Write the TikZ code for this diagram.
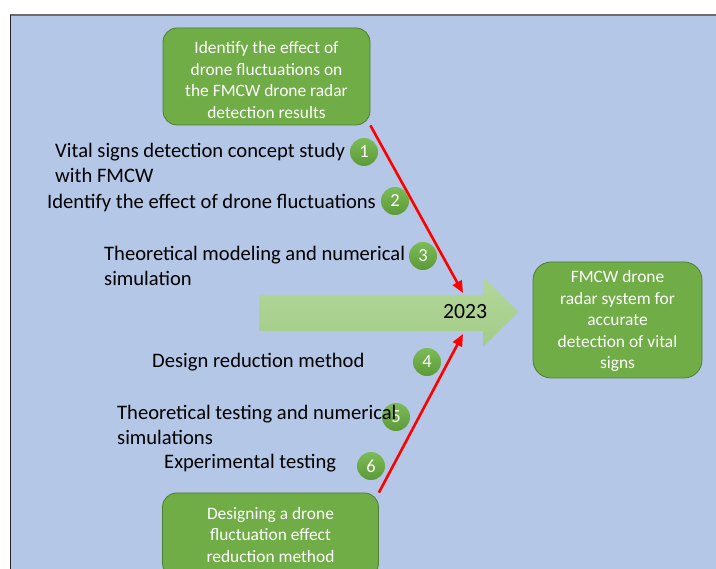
\documentclass[tikz,border=0pt]{standalone}
\usepackage{fontspec}
\setmainfont{Carlito}
\usetikzlibrary{arrows.meta}
\definecolor{bgblue}{HTML}{B4C7E7}
\definecolor{boxgreen}{HTML}{70AD47}
\definecolor{boxedge}{HTML}{507E32}
\definecolor{arrowtop}{HTML}{B3D79B}
\definecolor{arrowbot}{HTML}{A3CC87}
\definecolor{numtop}{HTML}{7DBB57}
\definecolor{numbot}{HTML}{5C9A38}
\definecolor{redline}{HTML}{FF0000}
\begin{document}
\begin{tikzpicture}[x=1pt,y=-1pt,
  box/.style={draw=boxedge, line width=0.8pt, fill=boxgreen, rounded corners=14pt, inner sep=0pt},
  boxtext/.style={text=white, font=\fontsize{17.4}{21.5}\selectfont, align=center, inner sep=0pt},
  lbl/.style={anchor=west, inner sep=0pt, align=left, text=black, font=\fontsize{20.6}{25}\selectfont},
  num/.style={circle, minimum size=28pt, inner sep=0pt, top color=numtop, bottom color=numbot, text=white, font=\fontsize{18.5}{18.5}\selectfont},
  redarrow/.style={draw=redline, line width=2.6pt, -{Triangle[length=12pt,width=10pt]}}
]
\useasboundingbox (0,0) rectangle (716,569);
\fill[bgblue] (10,15) rectangle (716,569);
\draw[gray!85!black, line width=1.5pt] (10,15) -- (716,15);
\draw[black!85, line width=1pt] (10,15) -- (10,569);

% big arrow
\shade[top color=arrowtop, bottom color=arrowbot]
  (259,295) -- (483,295) -- (483,277) -- (518,312) -- (483,347) -- (483,331) -- (259,331) -- cycle;
\node[inner sep=0pt, font=\fontsize{21.7}{22}\selectfont] (year) at (465,312) {2023};
\coordinate (hitTop) at (463,293);
\coordinate (hitBot) at (463,334);

% boxes
\node[box, minimum width=207pt, minimum height=97pt] (topbox) at (266.5,76.5) {};
\node[boxtext] (toptext) at (266.5,80) {Identify the effect of\\drone fluctuations on\\the FMCW drone radar\\detection results};

\node[box, minimum width=216pt, minimum height=84pt] (botbox) at (270.5,535) {};
\node[boxtext] (bottext) at (270.5,535) {Designing a drone\\fluctuation effect\\reduction method};

\node[box, rounded corners=18pt, minimum width=169pt, minimum height=116pt] (rightbox) at (617.5,320) {};
\node[boxtext] (righttext) at (617.5,321) {FMCW drone\\radar system for\\accurate\\detection of vital\\signs};

% red arrows
\draw[redarrow] (topbox.south east) -- (hitTop);
\draw[redarrow] (botbox.north east) -- (hitBot);

% labels
\node[lbl] (l1) at (55,162.5) {Vital signs detection concept study\\with FMCW};
\node[lbl] (l2) at (47,203) {Identify the effect of drone fluctuations};
\node[lbl] (l3) at (104,266) {Theoretical modeling and numerical\\simulation};
\node[lbl] (l4) at (152,362) {Design reduction method};
\node[lbl] (l6) at (164,463) {Experimental testing};

% numbered circles
\node[num] (n1) at (364,152) {1};
\node[num] (n2) at (395,201) {2};
\node[num] (n3) at (423,256) {3};
\node[num] (n4) at (427,362) {4};
\node[num] (n5) at (396,417) {5};
\node[num] (n6) at (371,466) {6};

\node[lbl] (l5) at (117,424.5) {Theoretical testing and numerical\\simulations};
\end{tikzpicture}
\end{document}
